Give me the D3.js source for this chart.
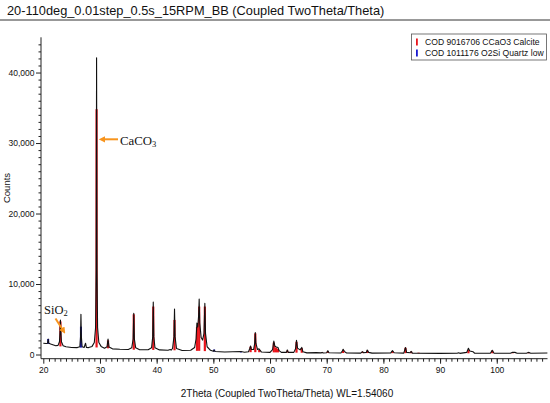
<!DOCTYPE html>
<html>
<head>
<meta charset="utf-8">
<script src="https://cdn.jsdelivr.net/npm/d3@7"></script>
<style>
  body { margin: 0; background: #fff; }
  text { font-family: "Liberation Sans", Arial, sans-serif; }
  text.serif { font-family: "Liberation Serif", "Times New Roman", serif; }
</style>
</head>
<body>
<div id="chart"></div>
<script>
// ---- data ----
const titleText = "20-110deg_0.01step_0.5s_15RPM_BB (Coupled TwoTheta/Theta)";
const xTitle = "2Theta (Coupled TwoTheta/Theta) WL=1.54060";
const yTitle = "Counts";
const legendLabels = ["COD 9016706 CCaO3 Calcite", "COD 1011176 O2Si Quartz low"];
const legendColors = ["#e8141b", "#1a1ad0"];
const xMajorTicks = [20, 30, 40, 50, 60, 70, 80, 90, 100];
const yMajorTicks = [0, 10000, 20000, 30000, 40000];

// measured pattern: [2theta, counts]
const profile = [
  [20.0,1600],[20.5,1550],[20.75,1600],[20.86,2200],[20.97,1600],[21.3,1480],[21.8,1350],
  [22.2,1250],[22.6,1300],[22.85,1800],[22.95,3200],[23.02,4900],[23.1,3200],[23.2,1800],
  [23.5,1250],[24.0,1100],[25.0,1000],[26.0,980],[26.45,1100],[26.57,2500],[26.64,5700],
  [26.72,2500],[26.85,1100],[27.2,1000],[27.45,1600],[27.6,1000],[28.0,980],[28.6,1150],
  [29.0,1700],[29.22,3800],[29.33,12000],[29.4,42100],[29.47,12000],[29.58,3800],[29.8,1700],
  [30.2,1150],[30.8,900],[31.25,1100],[31.42,2200],[31.6,1050],[32.2,800],[33.5,740],
  [35.0,720],[35.6,950],[35.85,2200],[35.96,5850],[36.07,2200],[36.3,950],[37.0,680],
  [38.5,680],[39.1,950],[39.3,2500],[39.4,7450],[39.5,2500],[39.7,950],[40.5,650],
  [42.0,600],[42.4,700],[42.55,620],[42.8,850],[43.05,2500],[43.15,6450],[43.25,2500],
  [43.5,850],[44.5,570],[46.0,600],[46.7,1000],[46.95,2200],[47.1,4450],[47.25,3900],
  [47.4,5500],[47.5,7870],[47.6,4500],[47.85,2400],[48.1,2050],[48.35,3000],[48.5,7250],
  [48.62,3000],[48.9,1100],[49.5,600],[50.0,450],[50.14,650],[50.3,430],[52.0,350],
  [54.87,420],[55.5,320],[56.2,400],[56.45,900],[56.57,1200],[56.7,700],[57.1,700],
  [57.3,1600],[57.4,3100],[57.5,1600],[57.8,700],[58.05,800],[58.15,700],[58.5,350],
  [60.0,300],[60.45,700],[60.67,1900],[60.85,1200],[61.0,1100],[61.4,1000],[61.6,550],
  [62.0,300],[62.9,300],[63.05,650],[63.2,300],[64.2,300],[64.5,800],[64.67,2000],
  [64.85,900],[65.3,650],[65.6,1000],[65.8,400],[66.5,230],[68.14,260],[69.0,230],
  [69.2,300],[69.4,220],[70.0,240],[70.2,540],[70.4,240],[72.5,220],[72.75,500],
  [72.9,740],[73.1,450],[73.5,220],[76.0,200],[76.3,400],[76.5,250],[77.0,300],
  [77.15,640],[77.4,300],[78.0,190],[81.3,220],[81.6,540],[81.9,250],[83.6,200],
  [83.9,1000],[84.1,300],[84.7,250],[84.9,450],[85.1,200],[86.0,180],[90.0,160],
  [93.0,170],[93.3,250],[93.5,160],[94.7,300],[95.0,880],[95.25,500],[95.8,400],
  [96.1,180],[98.9,200],[99.2,600],[99.5,200],[102.4,180],[102.8,320],[103.2,300],
  [103.6,180],[105.3,200],[105.6,300],[106.0,180],[109.0,220]
];

// reference sticks: [2theta, bottom, top]
const calciteSticks = [
  [23.02,1150,4700],[29.40,1000,34800],[31.42,880,2000],[35.96,680,5700],[39.40,650,6800],
  [43.15,600,4900],[47.12,520,3900],[47.50,520,6800],[48.50,480,6800],[56.57,330,1100],
  [57.40,330,3000],[58.10,320,650],[60.67,300,1700],[61.05,300,1000],[61.40,300,800],
  [63.05,280,550],[64.67,260,1800],[65.60,250,900],[69.20,220,280],[70.20,220,450],
  [72.90,210,650],[76.30,200,380],[77.15,200,550],[81.60,190,480],[83.90,190,950],
  [84.90,180,420],[86.20,180,260],[95.00,170,650],[99.20,170,550],[102.8,170,230],
  [105.6,170,260]
];
const quartzSticks = [
  [20.86,1500,2200],[26.64,980,3950],[50.14,420,700],[54.87,300,420],[68.14,230,320]
];

// ---- layout ----
const W = 550, H = 403;
const x = d3.scaleLinear().domain([20, 108.9]).range([43.3, 547.2]);
const y = d3.scaleLinear().domain([0, 45000]).range([354.5, 37.3]);
const axisY = 358.7, axisX = 41;

const svg = d3.select("#chart").append("svg")
  .attr("width", W).attr("height", H);

svg.append("rect").attr("width", W).attr("height", H).attr("fill", "#fff");

// title + rule
svg.append("text")
  .attr("x", 7).attr("y", 14.5)
  .attr("font-size", 12.8).attr("fill", "#111")
  .text(titleText);
svg.append("line")
  .attr("x1", 0).attr("x2", W).attr("y1", 20).attr("y2", 20)
  .attr("stroke", "#333").attr("stroke-width", 1);

svg.append("defs").append("clipPath").attr("id", "plot")
  .append("rect").attr("x", axisX).attr("y", 21).attr("width", 547.5 - axisX).attr("height", axisY - 21);

const plot = svg.append("g").attr("clip-path", "url(#plot)");

// sticks under the pattern
plot.append("g").attr("fill", legendColors[0])
  .selectAll("rect").data(calciteSticks).enter().append("rect")
    .attr("x", d => x(d[0]) - 1.1)
    .attr("width", 2.2)
    .attr("y", d => y(d[2]))
    .attr("height", d => y(d[1]) - y(d[2]));

plot.append("g").attr("fill", legendColors[1])
  .selectAll("rect").data(quartzSticks).enter().append("rect")
    .attr("x", d => x(d[0]) - 1)
    .attr("width", 2)
    .attr("y", d => y(d[2]))
    .attr("height", d => y(d[1]) - y(d[2]));

const line = d3.line().x(d => x(d[0])).y(d => y(d[1]));
plot.append("path")
  .datum(profile)
  .attr("d", line)
  .attr("fill", "none")
  .attr("stroke", "#111")
  .attr("stroke-width", 1.1)
  .attr("stroke-linejoin", "round");

// x axis
const xAxisG = svg.append("g").attr("transform", `translate(0,${axisY})`);
xAxisG.append("g")
  .call(d3.axisBottom(x).tickValues(d3.range(21, 109, 1)).tickSize(3).tickFormat(""))
  .call(g => g.select(".domain").remove());
xAxisG.append("g")
  .call(d3.axisBottom(x).tickValues(xMajorTicks).tickSize(5).tickPadding(3).tickFormat(d3.format("d")))
  .call(g => g.select(".domain").remove());
xAxisG.append("line")
  .attr("x1", axisX).attr("x2", 547.5).attr("stroke", "#222");
xAxisG.selectAll("text").attr("font-size", 8.5).attr("fill", "#111")
  .attr("font-family", "Liberation Sans, Arial, sans-serif");
xAxisG.selectAll(".tick line").attr("stroke", "#222");

// y axis
const yAxisG = svg.append("g").attr("transform", `translate(${axisX},0)`);
yAxisG.append("g")
  .call(d3.axisLeft(y).tickValues(d3.range(1000, 45000, 1000).filter(v => v % 10000)).tickSize(2.5).tickFormat(""))
  .call(g => g.select(".domain").remove());
yAxisG.append("g")
  .call(d3.axisLeft(y).tickValues(yMajorTicks).tickSize(5).tickPadding(1.5).tickFormat(d3.format(",")))
  .call(g => g.select(".domain").remove());
yAxisG.append("line")
  .attr("y1", y(45000)).attr("y2", axisY).attr("stroke", "#222");
yAxisG.selectAll("text").attr("font-size", 8.5).attr("fill", "#111")
  .attr("font-family", "Liberation Sans, Arial, sans-serif");
yAxisG.selectAll(".tick line").attr("stroke", "#222");

// axis titles
svg.append("text")
  .attr("x", 287).attr("y", 397)
  .attr("text-anchor", "middle").attr("font-size", 10).attr("fill", "#111")
  .text(xTitle);
svg.append("text")
  .attr("transform", "translate(10,188) rotate(-90)")
  .attr("text-anchor", "middle").attr("font-size", 9.5).attr("fill", "#111")
  .text(yTitle);

// legend
const legend = svg.append("g");
legend.append("rect")
  .attr("x", 411.5).attr("y", 34).attr("width", 135).attr("height", 26)
  .attr("fill", "#fff").attr("stroke", "#555").attr("stroke-width", 0.8);
legendLabels.forEach((lab, i) => {
  const ly = 42 + i * 11;
  legend.append("rect")
    .attr("x", 416).attr("y", ly - 3.5).attr("width", 1.8).attr("height", 7)
    .attr("fill", legendColors[i]);
  legend.append("text")
    .attr("x", 425).attr("y", ly + 3)
    .attr("font-size", 8.6).attr("fill", "#111")
    .text(lab);
});

// annotations
const orange = "#f7941d";
const defs = svg.select("defs");
defs.append("marker").attr("id", "head")
  .attr("viewBox", "0 0 10 10").attr("refX", 5).attr("refY", 5)
  .attr("markerWidth", 3.2).attr("markerHeight", 3.2).attr("orient", "auto")
  .append("path").attr("d", "M0,0 L10,5 L0,10 Z").attr("fill", orange);

svg.append("line")
  .attr("x1", 118).attr("y1", 139.3).attr("x2", 102).attr("y2", 139.3)
  .attr("stroke", orange).attr("stroke-width", 2).attr("marker-end", "url(#head)");
svg.append("text")
  .attr("class", "serif")
  .attr("x", 120).attr("y", 144.5)
  .attr("font-size", 12.8).attr("fill", "#111")
  .text("CaCO").append("tspan").attr("dy", 2.5).attr("font-size", 8.5).text("3");

svg.append("line")
  .attr("x1", 55.5).attr("y1", 318.5).attr("x2", 63.5).attr("y2", 331)
  .attr("stroke", orange).attr("stroke-width", 2).attr("marker-end", "url(#head)");
svg.append("text")
  .attr("class", "serif")
  .attr("x", 44).attr("y", 313.5)
  .attr("font-size", 12.5).attr("fill", "#111")
  .text("SiO").append("tspan").attr("dy", 2.5).attr("font-size", 8.5).text("2");
</script>
</body>
</html>
